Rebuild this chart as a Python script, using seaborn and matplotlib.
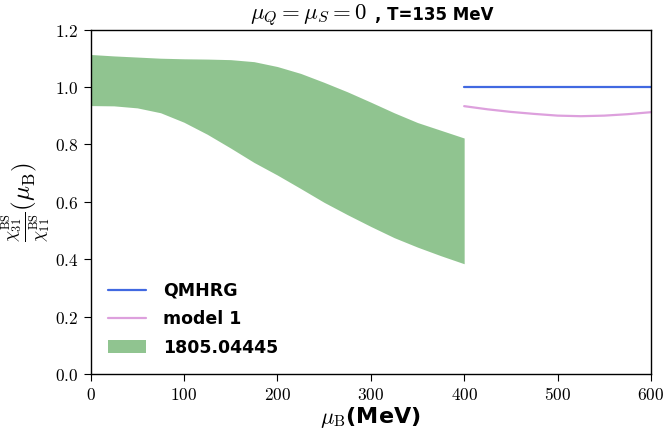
import numpy as np
import matplotlib
matplotlib.use('Agg')
import matplotlib.pyplot as plt
from matplotlib.ticker import FuncFormatter
import seaborn as sns

# band from 1805.04445
band_mu = [0, 25, 50, 75, 100, 125, 150, 175, 200, 225, 250, 275, 300, 325, 350, 375, 400]
band_hi = [1.113, 1.108, 1.104, 1.100, 1.098, 1.097, 1.095, 1.088, 1.071, 1.047, 1.016,
           0.983, 0.947, 0.910, 0.876, 0.849, 0.822]
band_lo = [0.935, 0.934, 0.927, 0.910, 0.877, 0.835, 0.787, 0.737, 0.693, 0.646, 0.598,
           0.555, 0.514, 0.475, 0.442, 0.412, 0.384]

# curves
line_mu = [400, 425, 450, 475, 500, 525, 550, 575, 600]
qmhrg = [1.0, 1.0, 1.0, 1.0, 1.0, 1.0, 1.0, 1.0, 1.0]
model1 = [0.933, 0.922, 0.913, 0.906, 0.900, 0.898, 0.900, 0.905, 0.912]

sns.set_style('ticks')
plt.rcParams['font.family'] = ['DejaVu Sans']
plt.rcParams['mathtext.fontset'] = 'cm'
plt.rcParams['text.color'] = 'black'
plt.rcParams['axes.labelcolor'] = 'black'

fig = plt.figure(figsize=(6.67, 4.32), dpi=100)
ax = fig.add_axes([0.1357, 0.1343, 0.8403, 0.7974])

sns.lineplot(x=line_mu, y=qmhrg, ax=ax, color='royalblue', lw=1.6, label='QMHRG')
sns.lineplot(x=line_mu, y=model1, ax=ax, color='plum', lw=1.6, label='model 1')
ax.fill_between(band_mu, band_lo, band_hi, color='forestgreen', alpha=0.5, lw=0,
                label='1805.04445')

ax.set_xlim(0, 600)
ax.set_ylim(0, 1.2)
ax.set_xticks([0, 100, 200, 300, 400, 500, 600])
ax.set_yticks([0.0, 0.2, 0.4, 0.6, 0.8, 1.0, 1.2])
ax.xaxis.set_major_formatter(FuncFormatter(lambda v, p: '$%d$' % v))
ax.yaxis.set_major_formatter(FuncFormatter(lambda v, p: '$%.1f$' % v))
ax.tick_params(labelsize=12.5, colors='black', length=5)
for s in ax.spines.values():
    s.set_color('black')
    s.set_linewidth(1.0)

# title in two pieces so the math part can be larger
fig.text(0.3748, 0.9537, r'$\mu_Q = \mu_S = 0$', fontsize=16.5, ha='left', va='baseline')
fig.text(0.7406, 0.9537, ', T=135 MeV', fontsize=12, fontweight='bold', ha='right',
         va='baseline')

ax.set_xlabel(r'$\mu_{\mathrm{B}}$(MeV)', fontsize=16, fontweight='bold', labelpad=1)
ax.set_ylabel(r'$\frac{\chi^{\mathrm{BS}}_{31}}{\chi^{\mathrm{BS}}_{11}}(\mu_{\mathrm{B}})$',
              fontsize=18, labelpad=2)

ax.legend(loc='lower left', frameon=False, prop={'weight': 'bold', 'size': 12.5},
          handlelength=2.2, handletextpad=1.0, borderaxespad=0.6, labelspacing=0.6)

fig.savefig('out.png', dpi=100)
